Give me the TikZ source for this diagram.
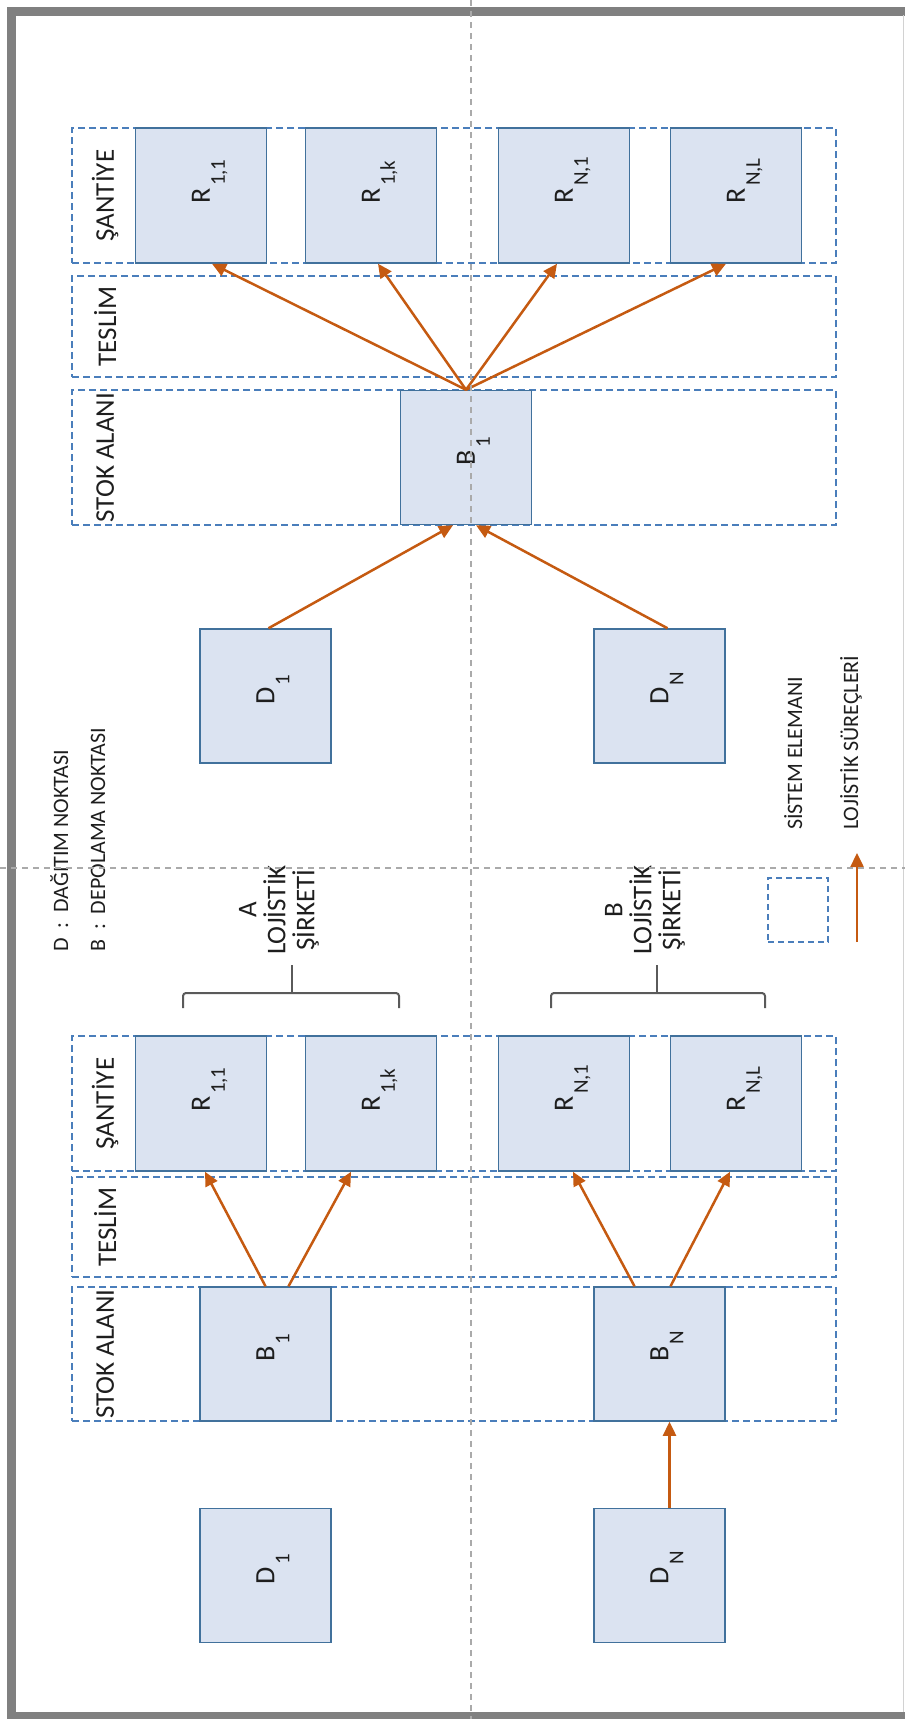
\documentclass[tikz,border=0pt]{standalone}
\usepackage{fontspec}
\setmainfont{Carlito}
\usetikzlibrary{arrows.meta}

\definecolor{bandblue}{RGB}{74,126,187}
\definecolor{boxfill}{RGB}{219,227,241}
\definecolor{boxline}{RGB}{65,113,156}
\definecolor{flow}{RGB}{197,90,17}
\definecolor{framegray}{RGB}{128,128,128}
\definecolor{gridgray}{RGB}{170,170,170}
\definecolor{bracegray}{RGB}{90,90,90}
\definecolor{ink}{RGB}{30,30,30}

% element name with a lowered index that hangs past the centred letter
\newcommand\elemname[2]{#1\rlap{\hspace{2pt}\raisebox{-15pt}[0pt][0pt]{\fontsize{21}{21}\selectfont #2}}}

\begin{document}
\begin{tikzpicture}[x=1pt,y=-1pt,
  every node/.style={text=ink},
  band/.style={draw=bandblue, line width=1.8pt, dash pattern=on 7pt off 4pt,
    minimum width=764pt, inner sep=0pt},
  elem/.style={draw=boxline, fill=boxfill, line width=1.5pt,
    minimum width=131pt, minimum height=134pt, inner sep=0pt},
  elemlabel/.style={rotate=90, font=\fontsize{28}{28}\selectfont, inner sep=0pt},
  bandlabel/.style={rotate=90, font=\fontsize{27}{30}\selectfont, inner sep=0pt},
  note/.style={rotate=90, font=\fontsize{22}{26}\selectfont, inner sep=0pt, anchor=base west},
  company/.style={rotate=90, align=center, font=\fontsize{27}{29}\selectfont, inner sep=0pt},
  flowarrow/.style={draw=flow, line width=2.5pt, -{Triangle[length=14pt,width=13pt]}},
  gridline/.style={draw=gridgray, line width=1.3pt, dash pattern=on 6pt off 5pt},
  brace/.style={draw=bracegray, line width=2pt, rounded corners=3pt},
]
\useasboundingbox (0,0) rectangle (905,1719);

% outer frame
\draw[line width=9pt, framegray] (11.5,11) rectangle (935,1716);
\draw[gray!35, line width=1pt] (903,15) -- (903,1712);

% ---------- upper scheme: one shared stock area ----------
\node[band, minimum height=135pt] (santA) at (454,195.5) {};
\node[band, minimum height=101pt] (teslA) at (454,326.5) {};
\node[band, minimum height=135pt] (stokA) at (454,457.5) {};
\node[bandlabel] at ([xshift=34pt]santA.west) {ŞANTİYE};
\node[bandlabel] at ([xshift=34pt]teslA.west) {TESLİM};
\node[bandlabel] at ([xshift=34pt]stokA.west) {STOK ALANI};

\node[elem, minimum height=135pt] (R11a) at (201,195.5) {};
\node[elem, minimum height=135pt] (R1ka) at (371,195.5) {};
\node[elem, minimum height=135pt] (RN1a) at (564,195.5) {};
\node[elem, minimum height=135pt] (RNLa) at (736,195.5) {};
\node[elem] (B1a) at (466,457.5) {};
\node[elem] (D1a) at (265.5,696) {};
\node[elem] (DNa) at (659.5,696) {};

\node[elemlabel] at (R11a) {\elemname{R}{1,1}};
\node[elemlabel] at (R1ka) {\elemname{R}{1,k}};
\node[elemlabel] at (RN1a) {\elemname{R}{N,1}};
\node[elemlabel] at (RNLa) {\elemname{R}{N,L}};
\node[elemlabel] at (B1a) {\elemname{B}{1}};
\node[elemlabel] at (D1a) {\elemname{D}{1}};
\node[elemlabel] at (DNa) {\elemname{D}{N}};

\draw[flowarrow] ([xshift=3pt]D1a.north) -- ([xshift=-13pt]B1a.south);
\draw[flowarrow] ([xshift=8pt]DNa.north) -- ([xshift=10pt]B1a.south);
\draw[flowarrow] (B1a.north) -- ([xshift=11pt]R11a.south);
\draw[flowarrow] (B1a.north) -- ([xshift=7pt]R1ka.south);
\draw[flowarrow] (B1a.north) -- ([xshift=-7pt]RN1a.south);
\draw[flowarrow] (B1a.north) -- ([xshift=-10pt]RNLa.south);

% ---------- legend ----------
\node[note] (legD) at (68,952) {D\ \ :\ \ DAĞITIM NOKTASI};
\node[note] (legB) at (105,952) {B\ \ :\ \ DEPOLAMA NOKTASI};
\node[note] (legSys) at (802,830) {SİSTEM ELEMANI};
\node[note] (legFlow) at (858,830) {LOJİSTİK SÜREÇLERİ};
\node[draw=bandblue, line width=1.5pt, dash pattern=on 6pt off 4pt,
  minimum width=60pt, minimum height=64pt, inner sep=0pt] (legBox) at (798,910) {};
\coordinate (legTail) at (857,942);
\coordinate (legTip) at (857,853);
\draw[flowarrow] (legTail) -- (legTip);

% ---------- companies ----------
\node[company] (compA) at (279,910) {A\\LOJİSTİK\\ŞİRKETİ};
\node[company] (compB) at (645,910) {B\\LOJİSTİK\\ŞİRKETİ};
\draw[brace] (183,1008) -- (183,993) -- (399,993) -- (399,1008);
\draw[brace] (292,993) -- (292,965);
\draw[brace] (551,1008) -- (551,993) -- (765,993) -- (765,1008);
\draw[brace] (657,993) -- (657,965);

% ---------- lower scheme: a stock area per company ----------
\node[band, minimum height=135pt] (santB) at (454,1103.5) {};
\node[band, minimum height=100pt] (teslB) at (454,1227) {};
\node[band, minimum height=134pt] (stokB) at (454,1354) {};
\node[bandlabel] at ([xshift=34pt]santB.west) {ŞANTİYE};
\node[bandlabel] at ([xshift=34pt]teslB.west) {TESLİM};
\node[bandlabel] at ([xshift=34pt]stokB.west) {STOK ALANI};

\node[elem, minimum height=135pt] (R11b) at (201,1103.5) {};
\node[elem, minimum height=135pt] (R1kb) at (371,1103.5) {};
\node[elem, minimum height=135pt] (RN1b) at (564,1103.5) {};
\node[elem, minimum height=135pt] (RNLb) at (736,1103.5) {};
\node[elem] (B1b) at (265.5,1354) {};
\node[elem] (BNb) at (659.5,1354) {};
\node[elem] (D1b) at (265.5,1575.5) {};
\node[elem] (DNb) at (659.5,1575.5) {};

\node[elemlabel] at (R11b) {\elemname{R}{1,1}};
\node[elemlabel] at (R1kb) {\elemname{R}{1,k}};
\node[elemlabel] at (RN1b) {\elemname{R}{N,1}};
\node[elemlabel] at (RNLb) {\elemname{R}{N,L}};
\node[elemlabel] at (B1b) {\elemname{B}{1}};
\node[elemlabel] at (BNb) {\elemname{B}{N}};
\node[elemlabel] at (D1b) {\elemname{D}{1}};
\node[elemlabel] at (DNb) {\elemname{D}{N}};

\draw[flowarrow] (B1b.north) -- ([xshift=4pt]R11b.south);
\draw[flowarrow] ([xshift=23pt]B1b.north) -- ([xshift=-20pt]R1kb.south);
\draw[flowarrow] ([xshift=-25pt]BNb.north) -- ([xshift=9pt]RN1b.south);
\draw[flowarrow] ([xshift=11pt]BNb.north) -- ([xshift=-6pt]RNLb.south);
\draw[flowarrow] ([xshift=10pt]DNb.north) -- ([xshift=10pt]BNb.south);

% ---------- dashed guide lines on top ----------
\coordinate (gTop) at (471,0);
\coordinate (gBottom) at (471,1719);
\coordinate (gLeft) at (0,868);
\coordinate (gRight) at (905,868);
\draw[gridline] (gTop) -- (gBottom);
\draw[gridline] (gLeft) -- (gRight);
\end{tikzpicture}
\end{document}
